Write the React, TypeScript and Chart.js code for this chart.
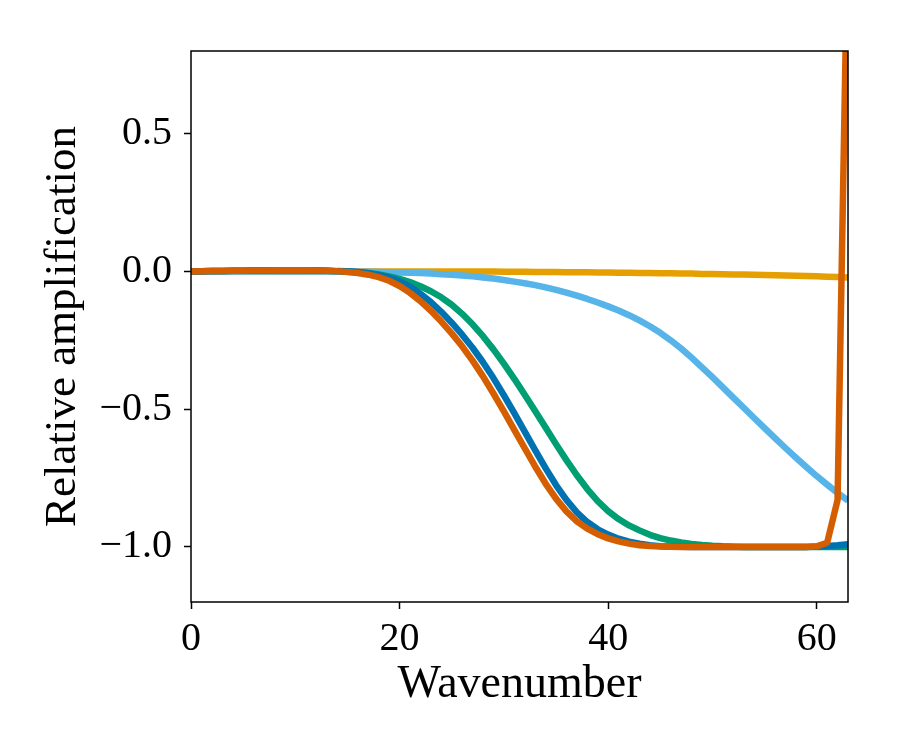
import React, { useEffect, useRef } from "react";
import { Chart, registerables } from "chart.js";

Chart.register(...registerables);

const FONT = "'Liberation Serif', 'DejaVu Serif', serif";

const WAVENUMBER = [
  0, 1, 2, 3, 4, 5, 6, 7, 8, 9, 10, 11, 12, 13, 14, 15, 16, 17, 18, 19, 20, 21, 22, 23, 24, 25, 26, 27, 28, 29, 30, 31,
  32, 33, 34, 35, 36, 37, 38, 39, 40, 41, 42, 43, 44, 45, 46, 47, 48, 49, 50, 51, 52, 53, 54, 55, 56, 57, 58, 59, 60, 61, 62, 63,
];

const VERMILION = [
  0, 0.0005, 0.001, 0.0015, 0.002, 0.0025, 0.003, 0.0035, 0.004, 0.004, 0.004, 0.004, 0.0035, 0.0025, 0.001,
  -0.002, -0.006, -0.012, -0.021, -0.034, -0.053, -0.078, -0.108, -0.143, -0.182, -0.225, -0.272, -0.324, -0.381, -0.443,
  -0.508, -0.575, -0.642, -0.708, -0.77, -0.825, -0.871, -0.907, -0.934, -0.954, -0.969, -0.98, -0.988, -0.994, -0.997,
  -0.9985, -0.9993,
  -1.0, -1.0, -1.0, -1.0, -1.0, -1.0, -1.0, -1.0, -1.0, -1.0, -1.0, -1.0, -1.0,
  -0.998, -0.985, -0.83, 1.3,
];

const BLUE = [
  0, 0.0005, 0.001, 0.0015, 0.002, 0.0025, 0.003, 0.0035, 0.004, 0.004, 0.004, 0.004, 0.0035, 0.0025, 0.001,
  0.0007, -0.0024, -0.0066, -0.0129, -0.0223, -0.0359, -0.0555, -0.081, -0.1115, -0.1469, -0.1863, -0.2297, -0.2772,
  -0.3297, -0.3872, -0.4495, -0.5147, -0.5817, -0.6486, -0.7142, -0.7755, -0.8296, -0.8746, -0.9097, -0.936, -0.9555,
  -0.9701, -0.9808, -0.9886, -0.9943, -0.9972, -0.9987, -0.9994,
  -1.0, -1.0, -1.0, -1.0, -1.0, -1.0, -1.0, -1.0, -1.0, -1.0, -1.0, -1.0,
  -0.999, -0.997, -0.994, -0.99,
];

const GREEN = [
  0, 0.0005, 0.001, 0.0015, 0.002, 0.0025, 0.003, 0.0035, 0.004, 0.004, 0.004, 0.004, 0.0035, 0.0025, 0.001,
  -0.001, -0.003, -0.006, -0.011, -0.018, -0.027, -0.039, -0.054, -0.072, -0.094, -0.121, -0.154, -0.192, -0.235, -0.283,
  -0.335, -0.39, -0.448, -0.507, -0.567, -0.627, -0.685, -0.74, -0.79, -0.834, -0.87, -0.899, -0.922, -0.94, -0.956,
  -0.968, -0.977, -0.984, -0.989, -0.993, -0.996, -0.998, -0.999,
  -1.0, -1.0, -1.0, -1.0, -1.0, -1.0, -1.0, -1.0, -1.0, -1.0, -1.0,
];

const LIGHT_BLUE = [
  0, 0, 0, 0, 0, 0, 0, 0, 0, 0, 0, 0, 0, 0, 0, 0,
  -0.001, -0.0015, -0.002, -0.003, -0.004, -0.005, -0.006, -0.008, -0.01, -0.012, -0.015, -0.018, -0.022, -0.026,
  -0.031, -0.037, -0.043, -0.05, -0.058, -0.067, -0.077, -0.088, -0.1, -0.113, -0.127, -0.142, -0.159, -0.178, -0.199,
  -0.223, -0.25, -0.28, -0.313, -0.348, -0.384, -0.421, -0.458, -0.495, -0.532, -0.569, -0.605, -0.641, -0.676,
  -0.71, -0.743, -0.774, -0.804, -0.832,
];

const YELLOW = [
  0, 0, 0, 0, 0, 0, 0, 0, 0, 0, 0, 0, 0, 0, 0, 0, 0, 0, 0, 0, 0, 0, 0, 0, 0, 0, 0, 0, 0, 0,
  -0.001, -0.001, -0.001, -0.002, -0.002, -0.002, -0.003, -0.003, -0.003, -0.004, -0.004, -0.005, -0.005, -0.006,
  -0.006, -0.007, -0.007, -0.008, -0.008, -0.009, -0.009, -0.01, -0.011, -0.011, -0.012, -0.013, -0.014, -0.015,
  -0.016, -0.017, -0.018, -0.019, -0.02, -0.022,
];

const X_TICKS = [0, 20, 40, 60];
const X_TICK_LABELS = ["0", "20", "40", "60"];
const Y_TICKS = [-1.0, -0.5, 0.0, 0.5];
const Y_TICK_LABELS = ["\u22121.0", "\u22120.5", "0.0", "0.5"];

const SERIES = [
  { data: VERMILION, color: "#D55E00" },
  { data: BLUE, color: "#0072B2" },
  { data: GREEN, color: "#009E73" },
  { data: LIGHT_BLUE, color: "#56B4E9" },
  { data: YELLOW, color: "#E69F00" },
];

const framePlugin = {
  id: "frame",
  afterDatasetsDraw(chart: any) {
    const { ctx, chartArea } = chart;
    const { left, top, right, bottom } = chartArea;
    ctx.save();
    ctx.strokeStyle = "#000";
    ctx.lineWidth = 1.5;
    ctx.strokeRect(left, top, right - left, bottom - top);
    ctx.restore();
  },
};

export default function App() {
  const ref = useRef<HTMLCanvasElement>(null);

  useEffect(() => {
    const canvas = ref.current;
    if (!canvas) return;
    const chart = new Chart(canvas, {
      type: "line",
      data: {
        datasets: SERIES.map((s) => ({
          data: WAVENUMBER.map((x, i) => ({ x, y: s.data[i] })),
          borderColor: s.color,
          backgroundColor: s.color,
          borderWidth: 6.5,
          pointRadius: 0,
          fill: false,
          tension: 0,
          borderJoinStyle: "round",
          borderCapStyle: "butt",
          clip: 0,
        })),
      },
      options: {
        animation: false,
        responsive: false,
        devicePixelRatio: 1,
        layout: { padding: { top: 51, right: 52, left: 0, bottom: 0 } },
        plugins: {
          legend: { display: false },
          tooltip: { enabled: false },
        },
        scales: {
          x: {
            type: "linear",
            min: 0,
            max: 63,
            afterBuildTicks: (s: any) => {
              s.ticks = X_TICKS.map((v) => ({ value: v }));
            },
            afterFit: (s: any) => {
              s.height = 148;
            },
            border: { display: false },
            grid: {
              display: true,
              drawOnChartArea: false,
              drawTicks: true,
              tickLength: 7,
              tickWidth: 1.5,
              tickColor: "#000",
            },
            ticks: {
              autoSkip: false,
              maxRotation: 0,
              padding: 6,
              color: "#000",
              font: { size: 40, family: FONT },
              callback: (v: any) => {
                const i = X_TICKS.indexOf(Number(v));
                return i >= 0 ? X_TICK_LABELS[i] : "";
              },
            },
            title: {
              display: true,
              text: "Wavenumber",
              color: "#000",
              font: { size: 46, family: FONT },
              padding: { top: 0, bottom: 37 },
            },
          },
          y: {
            type: "linear",
            min: -1.2,
            max: 0.8,
            afterBuildTicks: (s: any) => {
              s.ticks = Y_TICKS.map((v) => ({ value: v }));
            },
            afterFit: (s: any) => {
              s.width = 191;
            },
            border: { display: false },
            grid: {
              display: true,
              drawOnChartArea: false,
              drawTicks: true,
              tickLength: 7,
              tickWidth: 1.5,
              tickColor: "#000",
            },
            ticks: {
              autoSkip: false,
              padding: 12,
              color: "#000",
              font: { size: 40, family: FONT },
              callback: (v: any) => {
                const i = Y_TICKS.findIndex((t) => Math.abs(t - Number(v)) < 1e-9);
                return i >= 0 ? Y_TICK_LABELS[i] : "";
              },
            },
            title: {
              display: true,
              text: "Relative amplification",
              color: "#000",
              font: { size: 45, family: FONT },
              padding: { top: 36, bottom: 0 },
            },
          },
        },
      },
      plugins: [framePlugin],
    } as any);
    return () => chart.destroy();
  }, []);

  return (
    <div style={{ position: "fixed", left: 0, top: 0, width: 900, height: 750, background: "#fff" }}>
      <canvas ref={ref} width={900} height={750} style={{ width: 900, height: 750, display: "block" }} />
    </div>
  );
}
